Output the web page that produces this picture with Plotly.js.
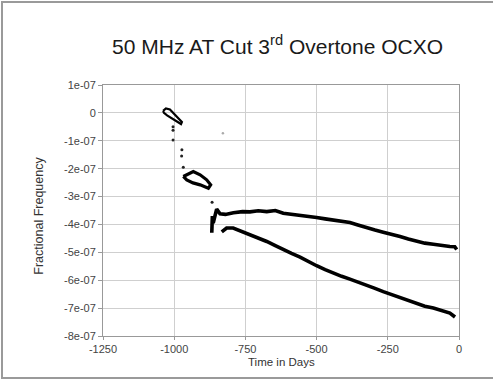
<!DOCTYPE html>
<html>
<head>
<meta charset="utf-8">
<script src="https://cdn.plot.ly/plotly-3.0.1.min.js"></script>
<style>
  html, body { margin: 0; padding: 0; background: #fff; }
  #wrap { position: relative; width: 493px; height: 381px; overflow: hidden; }
  #chart { position: absolute; left: 0; top: 0; width: 493px; height: 381px; }
  #frame { position: absolute; left: 1px; top: 1px; width: 520px; height: 374px;
           border-top: 2px solid #9a9a9a; border-left: 2px solid #9a9a9a; border-bottom: 2px solid #9a9a9a;
           pointer-events: none; }
</style>
</head>
<body>
<div id="wrap">
  <div id="chart"></div>
  <div id="frame"></div>
</div>
<script>
// Values in units of 1e-7 fractional frequency
const E = 1e-7;

// First early loop cluster
const loop1Days = [-1039, -1029, -1015, -997, -980, -973, -976, -990, -1008, -1025, -1036, -1039];
const loop1Vals = [0.07, 0.16, 0.12, -0.07, -0.25, -0.33, -0.40, -0.32, -0.20, -0.09, 0.00, 0.07];

// Scattered dots after the first loop
const dotsDays = [-1004, -1004, -1004, -973, -974, -968, -867];
const dotsVals = [-0.50, -0.62, -0.97, -1.32, -1.55, -1.95, -3.20];

// Faint stray point
const strayDays = [-829];
const strayVals = [-0.73];

// Second loop cluster
const loop2Days = [-968, -956, -933, -909, -886, -872, -880, -909, -934, -956, -968];
const loop2Vals = [-2.28, -2.22, -2.10, -2.22, -2.40, -2.58, -2.70, -2.58, -2.51, -2.40, -2.28];

// Upper branch
const upperDays = [-868, -866, -863, -851, -839, -820, -792, -760, -734, -705, -675, -645, -617, -588, -558, -530, -500, -470, -441, -412, -383, -355, -324, -295, -266, -236, -207, -178, -149, -120, -90, -60, -32, -15, -8];
const upperVals = [-4.30, -3.70, -3.95, -3.45, -3.62, -3.64, -3.58, -3.54, -3.55, -3.51, -3.54, -3.50, -3.60, -3.63, -3.69, -3.72, -3.75, -3.80, -3.84, -3.88, -3.93, -4.02, -4.13, -4.20, -4.28, -4.35, -4.43, -4.52, -4.61, -4.67, -4.71, -4.76, -4.79, -4.80, -4.90];

// Lower branch
const lowerDays = [-833, -816, -793, -765, -734, -705, -675, -645, -617, -588, -558, -530, -500, -470, -441, -412, -383, -355, -324, -295, -266, -236, -207, -178, -149, -120, -90, -60, -32, -14];
const lowerVals = [-4.27, -4.13, -4.13, -4.24, -4.35, -4.47, -4.61, -4.76, -4.91, -5.04, -5.17, -5.33, -5.48, -5.62, -5.75, -5.86, -5.96, -6.06, -6.16, -6.29, -6.41, -6.52, -6.64, -6.75, -6.85, -6.93, -7.00, -7.09, -7.18, -7.32];

const yTickVals = [1, 0, -1, -2, -3, -4, -5, -6, -7, -8];
const yTickText = ['1e-07', '0', '-1e-07', '-2e-07', '-3e-07', '-4e-07', '-5e-07', '-6e-07', '-7e-07', '-8e-07'];
const xTickVals = [-1250, -1000, -750, -500, -250, 0];
const xTickText = ['-1250', '-1000', '-750', '-500', '-250', '0'];

const sc = a => a.map(v => v * E);
const lineStyle = { color: '#000', width: 3.6 };

const traces = [
  { x: loop1Days, y: sc(loop1Vals), mode: 'lines', line: { color: '#000', width: 2.2 }, hoverinfo: 'skip' },
  { x: loop2Days, y: sc(loop2Vals), mode: 'lines', line: { color: '#000', width: 3.2 }, hoverinfo: 'skip' },
  { x: dotsDays, y: sc(dotsVals), mode: 'markers', marker: { color: '#222', size: 3 }, hoverinfo: 'skip' },
  { x: strayDays, y: sc(strayVals), mode: 'markers', marker: { color: '#aaa', size: 2.5 }, hoverinfo: 'skip' },
  { x: upperDays, y: sc(upperVals), mode: 'lines', line: lineStyle, hoverinfo: 'skip' },
  { x: lowerDays, y: sc(lowerVals), mode: 'lines', line: lineStyle, hoverinfo: 'skip' }
];

const FAM = 'Arial, Liberation Sans, sans-serif';
const axisFont = { family: FAM, size: 11, color: '#444' };

const layout = {
  width: 493, height: 381,
  margin: { l: 103, r: 34, t: 85, b: 45 },
  paper_bgcolor: '#fff', plot_bgcolor: '#fff',
  showlegend: false,
  title: {
    text: '50 MHz AT Cut 3<sup>rd</sup> Overtone OCXO',
    font: { family: FAM, size: 21, color: '#1a1a1a' },
    x: 0.563, xref: 'container', xanchor: 'center',
    y: 0.877, yref: 'container', yanchor: 'middle'
  },
  xaxis: {
    range: [-1250, 0], tickvals: xTickVals, ticktext: xTickText,
    showgrid: true, gridcolor: '#cfcfcf', gridwidth: 1,
    showline: true, linecolor: '#999', linewidth: 1, mirror: true,
    ticks: 'outside', ticklen: 3, tickcolor: '#999',
    tickfont: axisFont, zeroline: false, fixedrange: true
  },
  yaxis: {
    range: [-8e-7, 1e-7], tickvals: sc(yTickVals), ticktext: yTickText,
    showgrid: true, gridcolor: '#cfcfcf', gridwidth: 1,
    showline: true, linecolor: '#999', linewidth: 1, mirror: true,
    ticks: 'outside', ticklen: 4, tickcolor: '#999',
    tickfont: axisFont, zeroline: false, fixedrange: true
  },
  annotations: [
    { text: 'Fractional Frequency', xref: 'paper', yref: 'paper',
      x: -0.182, y: 0.48, xanchor: 'center', yanchor: 'middle', textangle: -90, showarrow: false,
      font: { family: FAM, size: 12.5, color: '#333' } },
    { text: 'Time in Days', xref: 'paper', yref: 'paper',
      x: 0.5, y: -0.102, xanchor: 'center', yanchor: 'middle', showarrow: false,
      font: { family: FAM, size: 11.5, color: '#333' } }
  ]
};

Plotly.newPlot('chart', traces, layout, { staticPlot: true, displayModeBar: false });
</script>
</body>
</html>
